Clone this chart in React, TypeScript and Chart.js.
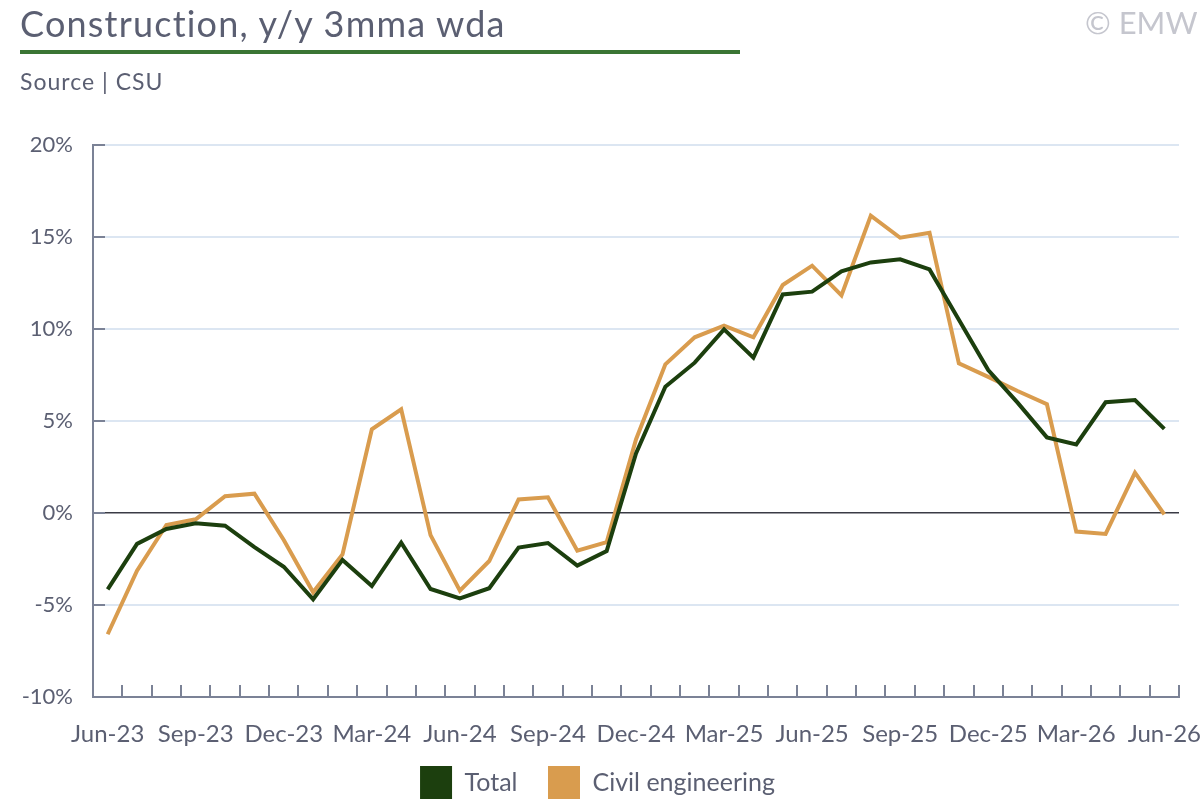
import { useEffect, useRef } from "react"
import { Chart, registerables } from "chart.js"

Chart.register(...registerables)

const months = [
  "Jun-23", "Jul-23", "Aug-23", "Sep-23", "Oct-23", "Nov-23", "Dec-23",
  "Jan-24", "Feb-24", "Mar-24", "Apr-24", "May-24", "Jun-24", "Jul-24", "Aug-24", "Sep-24", "Oct-24", "Nov-24", "Dec-24",
  "Jan-25", "Feb-25", "Mar-25", "Apr-25", "May-25", "Jun-25", "Jul-25", "Aug-25", "Sep-25", "Oct-25", "Nov-25", "Dec-25",
  "Jan-26", "Feb-26", "Mar-26", "Apr-26", "May-26", "Jun-26",
]

const total = [
  -4.15, -1.68, -0.87, -0.56, -0.69, -1.85, -2.92, -4.69, -2.55, -3.97, -1.61, -4.13, -4.64, -4.09, -1.88, -1.63, -2.86, -2.07,
  3.24, 6.86, 8.17, 9.98, 8.44, 11.88, 12.03, 13.13, 13.62, 13.79, 13.24, 10.5, 7.77, 6.0, 4.11, 3.73, 6.02, 6.14, 4.57,
]

const civilEngineering = [
  -6.59, -3.13, -0.65, -0.34, 0.91, 1.05, -1.47, -4.31, -2.25, 4.55, 5.63, -1.2, -4.22, -2.61, 0.74, 0.85, -2.05, -1.59,
  4.0, 8.08, 9.55, 10.18, 9.55, 12.39, 13.44, 11.83, 16.16, 14.96, 15.23, 8.13, 7.4, 6.63, 5.91, -1.01, -1.14, 2.19, -0.07,
]

const yTicks = [-10, -5, 0, 5, 10, 15, 20]

const textColor = "#5b5f72"
const axisColor = "#7b8296"
const gridColor = "#dce6f2"
const green = "#1c3f0e"
const orange = "#d99c4e"
const font = "Lato, 'Open Sans', sans-serif"

// small tick marks pointing into the plot, like the original
const inwardTicks = {
  id: "inwardTicks",
  beforeDatasetsDraw(chart) {
    const { ctx, chartArea, scales } = chart
    const x = scales.x
    const y = scales.y
    const half = (x.getPixelForValue(1) - x.getPixelForValue(0)) / 2
    ctx.save()
    ctx.strokeStyle = axisColor
    ctx.lineWidth = 2
    ctx.beginPath()
    for (let i = 0; i < months.length; i++) {
      const px = Math.round(x.getPixelForValue(i) + half)
      ctx.moveTo(px, chartArea.bottom)
      ctx.lineTo(px, chartArea.bottom - 12)
    }
    yTicks.forEach((v) => {
      const py = y.getPixelForValue(v)
      ctx.moveTo(chartArea.left, py)
      ctx.lineTo(chartArea.left + 12, py)
    })
    ctx.stroke()
    ctx.restore()
  },
}

function ConstructionChart() {
  const chartRef = useRef(null)
  const chartInstance = useRef(null)

  useEffect(() => {
    if (!chartRef.current) return
    if (chartInstance.current) chartInstance.current.destroy()

    chartInstance.current = new Chart(chartRef.current.getContext("2d"), {
      type: "line",
      data: {
        labels: months,
        datasets: [
          {
            label: "Total",
            data: total,
            borderColor: green,
            backgroundColor: green,
            borderWidth: 4,
            pointRadius: 0,
            tension: 0,
          },
          {
            label: "Civil engineering",
            data: civilEngineering,
            borderColor: orange,
            backgroundColor: orange,
            borderWidth: 4,
            pointRadius: 0,
            tension: 0,
          },
        ],
      },
      options: {
        animation: false,
        responsive: true,
        maintainAspectRatio: false,
        layout: { padding: { top: 145, right: 21, left: 16, bottom: -9 } },
        plugins: {
          tooltip: { enabled: false },
          legend: {
            position: "bottom",
            labels: {
              boxWidth: 32,
              boxHeight: 33,
              padding: 18,
              color: textColor,
              font: { family: font, size: 25 },
              // trailing en space widens the gap between the two entries
              generateLabels: (chart) =>
                Chart.defaults.plugins.legend.labels
                  .generateLabels(chart)
                  .map((l, i) => ({ ...l, lineWidth: 0, text: i === 0 ? l.text + "\u2002" : l.text })),
            },
          },
        },
        scales: {
          x: {
            offset: true,
            afterFit: (scale) => {
              scale.height = 51
              scale.paddingLeft = 0
              scale.paddingRight = 0
            },
            grid: { display: true, drawOnChartArea: false, drawTicks: false, offset: true },
            border: { display: true, color: axisColor, width: 2 },
            ticks: {
              autoSkip: false,
              maxRotation: 0,
              padding: 23,
              color: textColor,
              font: { family: font, size: 24 },
              callback: (v, i) => (i % 3 === 0 ? months[i] : ""),
            },
          },
          y: {
            min: -10,
            max: 20,
            afterFit: (scale) => {
              scale.width = 77
            },
            afterBuildTicks: (scale) => {
              scale.ticks = yTicks.map((v) => ({ value: v }))
            },
            grid: {
              drawTicks: false,
              color: (c) => (c.tick && c.tick.value === 0 ? "#3a3b45" : gridColor),
              lineWidth: (c) => (c.tick && c.tick.value === 0 ? 1.5 : 2),
            },
            border: { display: true, color: axisColor, width: 2 },
            ticks: {
              padding: 20,
              color: textColor,
              font: { family: font, size: 22 },
              callback: (v) => v + "%",
            },
          },
        },
      },
      plugins: [inwardTicks],
    })

    return () => {
      if (chartInstance.current) {
        chartInstance.current.destroy()
        chartInstance.current = null
      }
    }
  }, [])

  return (
    <div style={{ position: "absolute", left: 0, top: 0, width: 1200, height: 800 }}>
      <canvas ref={chartRef} />
    </div>
  )
}

export default function App() {
  return (
    <div
      style={{
        position: "fixed",
        left: 0,
        top: 0,
        width: 1200,
        height: 800,
        overflow: "hidden",
        background: "#fff",
        fontFamily: font,
        color: textColor,
      }}
    >
      <ConstructionChart />
      <div
        style={{ position: "absolute", left: 20, top: 0, fontSize: 36, lineHeight: "46px", letterSpacing: 1.2, whiteSpace: "nowrap" }}
      >
        Construction, y/y 3mma wda
      </div>
      <div style={{ position: "absolute", left: 20, top: 50, width: 720, height: 4, background: "#3a7534" }} />
      <div style={{ position: "absolute", left: 20, top: 66, fontSize: 23, lineHeight: "30px", letterSpacing: 1 }}>Source | CSU</div>
      <div style={{ position: "absolute", left: 1085, top: 2, fontSize: 31, lineHeight: "40px", color: "#c5c6ce", whiteSpace: "nowrap" }}>
        © EMW
      </div>
    </div>
  )
}
